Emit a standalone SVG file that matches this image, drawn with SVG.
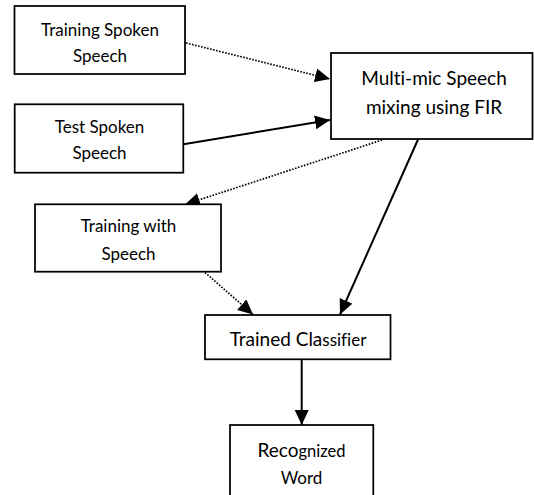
<svg xmlns="http://www.w3.org/2000/svg" width="534" height="495" viewBox="0 0 534 495">
<style>
.box{fill:#fff;stroke:#000;stroke-width:1.75}
.t{font-family:Lato,"Liberation Sans",sans-serif;font-size:17px;fill:#000;text-anchor:middle;font-variant-ligatures:none;font-feature-settings:"liga" 0,"clig" 0}
.tl{font-size:19px}
.solid{fill:none;stroke:#000;stroke-width:2}
.dot{fill:none;stroke:#000;stroke-width:1.7;stroke-dasharray:1.6 1.5}
</style>
<defs>
<marker id="ah" markerUnits="userSpaceOnUse" markerWidth="16" markerHeight="15" refX="15" refY="7" orient="auto">
<path d="M0,0 L15,7 L0,14 Z" fill="#000"/>
</marker>
</defs>
<rect width="534" height="495" fill="#fff"/>
<g id="connectors">
<line class="dot" x1="186" y1="43" x2="330" y2="79" marker-end="url(#ah)"/>
<line class="solid" x1="183.5" y1="144.3" x2="330" y2="120" marker-end="url(#ah)"/>
<line class="dot" x1="382" y1="140" x2="185" y2="204.5" marker-end="url(#ah)"/>
<line class="solid" x1="418" y1="139.5" x2="340" y2="314.5" marker-end="url(#ah)"/>
<line class="dot" x1="205" y1="272.5" x2="253" y2="314.5" marker-end="url(#ah)"/>
<line class="solid" x1="301.7" y1="359.5" x2="301.7" y2="425" marker-end="url(#ah)"/>
</g>
<g id="training-spoken">
<rect class="box" x="14.5" y="6" width="170.5" height="68"/>
<text class="t" x="100" y="36">Training Spoken</text>
<text class="t" x="100" y="61.5">Speech</text>
</g>
<g id="test-spoken">
<rect class="box" x="14.7" y="104.3" width="168.6" height="68.4"/>
<text class="t" x="99.5" y="132.5">Test Spoken</text>
<text class="t" x="99.5" y="158.5">Speech</text>
</g>
<g id="multi-mic">
<rect class="box" x="331" y="53" width="201.5" height="86"/>
<text class="t tl" x="434" y="84.5">Multi-mic Speech</text>
<text class="t tl" x="434" y="114">mixing using FIR</text>
</g>
<g id="training-with">
<rect class="box" x="35" y="204.3" width="186" height="67.4"/>
<text class="t" x="128.5" y="232.3">Training with</text>
<text class="t" x="128.5" y="259.5">Speech</text>
</g>
<g id="trained-classifier">
<rect class="box" x="205" y="315" width="185.5" height="44.3"/>
<text class="t" x="298" y="346"><tspan font-size="19">Trained Cla</tspan>ssifier</text>
</g>
<g id="recognized-word">
<rect class="box" x="230" y="425" width="143.3" height="71"/>
<text class="t" x="301.5" y="457.3"><tspan font-size="19">Reco</tspan><tspan font-size="16.5">gnized</tspan></text>
<text class="t" x="301.5" y="484" font-size="16.5">Word</text>
</g>
</svg>
